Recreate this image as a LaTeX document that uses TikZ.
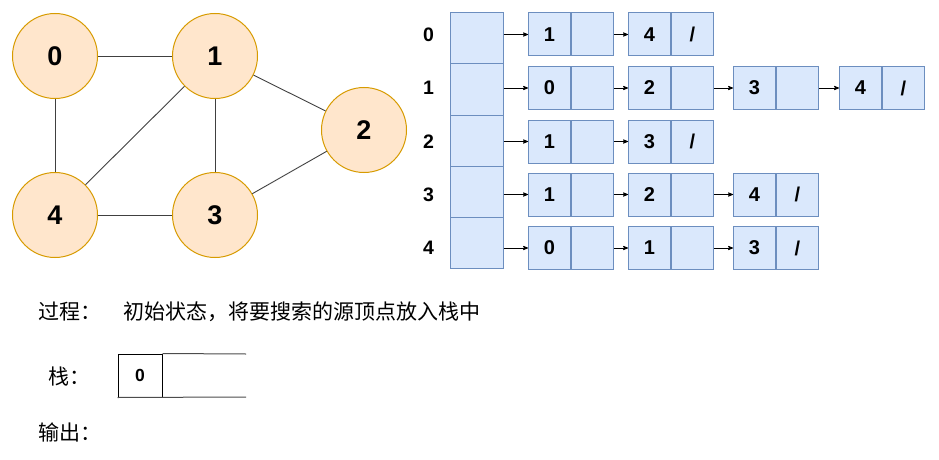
\documentclass[tikz,border=0pt]{standalone}
\usepackage{fontspec}
\setsansfont{Liberation Sans}
\newfontfamily\cjk{Noto Sans CJK SC}
\usetikzlibrary{arrows,positioning}
\definecolor{vtxfill}{HTML}{FFE6CC}
\definecolor{vtxline}{HTML}{D79B00}
\definecolor{listfill}{HTML}{DAE8FC}
\definecolor{listline}{HTML}{6C8EBF}
\tikzstyle{vertex}=[circle,draw=vtxline,fill=vtxfill,line width=1pt,minimum size=85pt,inner sep=0pt,font=\sffamily\bfseries\fontsize{27}{32}\selectfont]
\tikzstyle{edge} = [draw,black!75,line width=0.9pt]
\tikzstyle{head} = [rectangle,draw=listline,fill=listfill,line width=1pt,minimum width=53pt,minimum height=51pt,inner sep=0pt]
\tikzstyle{cell} = [rectangle,draw=listline,fill=listfill,line width=1pt,minimum width=42pt,minimum height=43pt,inner sep=0pt,font=\sffamily\bfseries\fontsize{20}{24}\selectfont]
\tikzstyle{idx} = [font=\sffamily\bfseries\fontsize{19.5}{24}\selectfont]
\tikzstyle{link} = [draw,thick,-stealth']
\tikzstyle{stackbox} = [rectangle,draw=black,line width=1pt,minimum width=44pt,minimum height=43pt,inner sep=0pt,font=\sffamily\bfseries\fontsize{17.5}{21}\selectfont]
\tikzstyle{cjktext} = [anchor=west,inner sep=0pt,font=\cjk\fontsize{21}{25}\selectfont]

\begin{document}
\begin{tikzpicture}[x=1pt,y=-1pt]
	\useasboundingbox (0,0) rectangle (939,460);
	% First the vertices of the graph
	\foreach \pos/\name in {{(55,56)/0}, {(215,56)/1}, {(364,130)/2},
							{(215,215)/3}, {(55,215)/4}}
	\node[vertex] (g\name) at \pos {\name};

	% Undirected edges
	\foreach \source/ \dest in {0/1, 0/4, 1/4, 1/3, 1/2, 4/3, 3/2}
	\path[edge] (g\source) -- (g\dest);

	% Head array and row indices
	\foreach \r in {0,...,4}
	\node[head] (h\r) at (476.5,38.5+51*\r) {};
	\foreach \r/\y in {0/34.5, 1/88, 2/141.5, 3/194.5, 4/248}
	\node[idx] (i\r) at (428.5,\y) {\r};

	% List nodes: value cell + next cell
	\foreach \r/\c/\x/\v/\p in {0/1/528/1/{}, 0/2/628/4/{/},
								1/1/528/0/{}, 1/2/628/2/{}, 1/3/733/3/{}, 1/4/839/4/{/},
								2/1/528/1/{}, 2/2/628/3/{/},
								3/1/528/1/{}, 3/2/628/2/{}, 3/3/733/4/{/},
								4/1/528/0/{}, 4/2/628/1/{}, 4/3/733/3/{/}}
	{
		\node[cell,anchor=west] (v\r\c) at (\x,0 |- i\r) {\v};
		\node[cell,right=0pt of v\r\c] (p\r\c) {\p};
	}

	% Pointers
	\foreach \r in {0,...,4}
	\path[link] (h\r.east |- v\r1) -- (v\r1.west);
	\foreach \r/\c/\d in {0/1/2, 1/1/2, 1/2/3, 1/3/4, 2/1/2, 3/1/2, 3/2/3, 4/1/2, 4/2/3}
	\path[link] (p\r\c.east) -- (v\r\d.west);

	% Process text
	\node[cjktext] (step) at (38,312) {过程：};
	\node[cjktext] (desc) at (123,312) {初始状态，将要搜索的源顶点放入栈中};

	% Stack
	\node[cjktext] (stklabel) at (48,377) {栈：};
	\node[stackbox] (s0) at (140,375.5) {0};
	\coordinate (stktop) at (246,354);
	\coordinate (stkbot) at (246,397);
	\draw[black!70,line width=1pt] (s0.north east) -- (stktop);
	\draw[black!70,line width=1pt] (s0.south west) -- (stkbot);

	% Output
	\node[cjktext] (out) at (38,432) {输出：};
\end{tikzpicture}
\end{document}
